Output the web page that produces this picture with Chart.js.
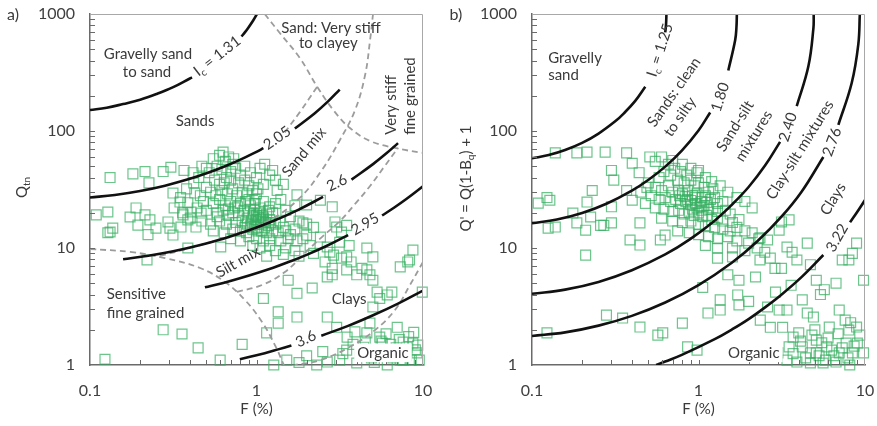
<!DOCTYPE html>
<html>
<head>
<meta charset="utf-8">
<script src="https://cdn.jsdelivr.net/npm/chart.js@4.4.0/dist/chart.umd.min.js"></script>
<style>
  body { margin: 0; background: #fff; }
  #wrap { position: relative; width: 877px; height: 426px; }
  canvas { position: absolute; top: 0; }
</style>
</head>
<body>
<div id="wrap">
  <canvas id="chartA" width="438" height="426" style="left:0"></canvas>
  <canvas id="chartB" width="439" height="426" style="left:438px"></canvas>
</div>
<script>
// axis ticks
const fTicks = [0.1, 1, 10];
const qTicks = [1, 10, 100, 1000];
const fMarks = [0.2, 0.3, 0.4, 0.5, 0.6, 0.7, 0.8, 0.9, 1, 2, 3, 4, 5, 6, 7, 8, 9];
const qMarks = [2, 3, 4, 5, 6, 7, 8, 9, 10, 20, 30, 40, 50, 60, 70, 80, 90, 100, 200, 300, 400, 500, 600, 700, 800, 900];

// panel a) : Ic contours (F %, Qtn), split where the labels sit
const ic131a = [[0.1,151],[0.126,158],[0.158,170],[0.2,185],[0.251,207],[0.316,237],[0.398,281],[0.41,287]];
const ic131b = [[0.813,642],[0.851,696],[0.891,760],[0.955,880],[1.0,984],[1.006,1000]];
const ic205a = [[0.1,27.0],[0.141,28.4],[0.2,30.7],[0.282,34.1],[0.398,39.0],[0.501,43.5],[0.631,49.2],[0.794,56.6],[1.0,66.4],[1.1,71.3]];
const ic205b = [[1.7,105],[2.24,142],[2.69,179],[3.16,226]];
const ic26a = [[0.158,8.01],[0.224,8.58],[0.316,9.37],[0.447,10.5],[0.631,12.0],[0.891,14.1],[1.26,17.0],[1.78,21.2],[2.51,27.3]];
const ic26b = [[3.72,38.4],[5.01,52.1],[6.03,64.4],[7.08,78.8]];
const ic295a = [[0.49,4.61],[0.631,5.03],[0.794,5.51],[1.26,6.79],[1.585,7.66],[2.0,8.74],[2.63,10.4],[3.55,12.9]];
const ic295b = [[5.68,18.95],[6.76,22.3],[7.94,26.2],[10,33.7]];
const ic36a = [[0.794,1.12],[1.12,1.26],[1.35,1.36],[1.62,1.47]];
const ic36b = [[2.45,1.78],[3.55,2.16],[5.01,2.66],[7.08,3.35],[10,4.33]];

// panel a) : dashed zone boundaries
const zone1 = [[0.1,9.8],[0.174,9.25],[0.282,8.2],[0.458,6.75],[0.647,5.12],[0.853,3.59],[1.08,2.33],[1.29,1.48],[1.46,1]];
const zoneSand = [[0.263,8.55],[0.399,10],[0.693,12.7],[1.205,17.4],[1.82,26.8],[2.47,46.4],[3.17,83.8],[3.91,151],[4.49,301],[4.81,600],[5.01,1000]];
const zoneStiff = [[1.12,1000],[1.38,688],[1.82,421],[2.34,233],[2.96,145],[3.64,106],[4.81,82.2],[6.79,71.6],[10,64.9]];
const zoneMix = [[2.31,238],[1.82,145],[1.44,92.5]];
const zoneSilt = [[0.763,4.21],[1.08,4.83],[1.48,6.23],[1.95,9.06],[2.47,12.4],[3.17,17.0],[3.91,23.8],[4.81,33.9],[5.83,49.2],[7.08,71.6]];
const zoneOrganic = [[10,7.6],[8.35,4.83],[6.79,2.95],[5.15,1.99],[3.64,1.43],[2.41,1.1],[1.7,1]];

// panel b) : Ic contours (F %, Q')
const ic125a = [[0.1,58.4],[0.126,62.3],[0.158,68.8],[0.2,79.1],[0.251,95.1],[0.316,121],[0.355,141],[0.417,181],[0.479,239]];
const ic125b = [[0.631,695],[0.638,806],[0.642,1000]];
const ic180a = [[0.1,16.3],[0.141,17.5],[0.2,19.9],[0.282,24.0],[0.398,30.9],[0.501,38.3],[0.631,49.6],[0.794,68],[1.0,101],[1.175,144]];
const ic180b = [[1.51,329],[1.66,597],[1.69,770],[1.70,1000]];
const ic240a = [[0.1,4.06],[0.158,4.41],[0.251,5.13],[0.398,6.45],[0.631,8.81],[0.891,11.9],[1.26,17.3],[1.585,23.4],[2.0,33.2],[2.51,50.6],[3.09,80.8]];
const ic240b = [[3.89,163],[4.57,357],[4.9,758],[4.92,1000]];
const ic276a = [[0.1,1.77],[0.158,1.90],[0.251,2.17],[0.398,2.63],[0.631,3.42],[1.0,4.82],[1.585,7.48],[2.24,11.3],[3.16,18.6],[4.17,30.4],[5.62,60]];
const ic276b = [[6.92,113],[8.32,257],[9.12,553],[9.31,1000]];
const ic322a = [[0.557,1],[0.631,1.07],[0.794,1.22],[1.26,1.67],[1.585,2.01],[2.0,2.47],[2.51,3.11],[3.16,4.01],[4.17,5.66],[5.62,8.71]];
const ic322b = [[8.13,16.6],[8.91,20.0],[10,25.7]];

// CPT data (F %, Qtn)
const pointsA = [
  [0.132,40],[0.181,43],[0.214,45],[0.226,36],[0.275,45],[0.306,49],[0.367,46],[0.416,44],[0.47,50],
  [0.315,29.5],[0.347,24.7],[0.387,24.4],[0.426,29.5],
  [0.109,19.2],[0.128,20.3],[0.137,14.8],[0.128,13.5],[0.174,18.4],[0.189,22],[0.214,19.2],[0.229,17.4],[0.194,15.7],
  [0.223,13],[0.249,14.8],[0.294,16.7],[0.302,14.8],[0.315,12.9],[0.352,15.1],[0.362,19.2],[0.404,20.3],[0.433,15.1],
  [0.465,19.9],[0.387,17.4],[0.132,13.7],[0.22,7.9],[0.387,10],[0.61,10.2],
  [0.275,2.0],[0.357,1.84],[0.446,1.4],[0.123,1.12],[0.82,1.5],[0.605,1.1],
  [1.33,31],[1.75,28.5],[2.0,23.3],[2.42,25.6],[2.85,22.5],[3.03,15.1],[3.48,15.6],[3.16,11.2],[3.48,8.4],[2.76,9.2],
  [2.85,6.7],[2.66,5.65],[3.7,7.6],[4.6,10],[5.0,8.4],[4.6,6.5],[5.0,5.3],[4.0,5.9],[1.55,5.3],[1.75,4.1],[2.16,4.55],
  [1.1,3.7],[1.35,2.85],[1.35,2.28],[1.75,2.57],[1.15,1.88],
  [2.66,2.57],[3.03,2.1],[3.5,1.73],[3.9,1.92],[4.8,2.28],[4.6,1.88],[5.5,1.73],[7.0,2.1],[7.6,1.57],[8.7,1.54],[9.2,1.27],
  [3.48,1.34],[3.16,1.1],[2.66,1.06],[2.3,1.0],[1.52,1.1],[1.27,1.0],[4.0,1.04],[6.1,1.0],[7.3,1.1],[7.3,1.29],[4.4,1.42],
  [6.3,1.27],[5.7,1.54],[7.6,1.1],[8.0,1.42],[9.3,1.48],[9.9,4.2],[8.7,9.6],[8.3,7.9],[7.3,6.9],[5.5,3.7],[6.1,3.97],[5.0,3.13],
  [1.9,16.4],[2.0,12.9],[2.96,16.7],[3.24,13.7],[3.6,10.5],[2.42,12.4],[2.66,10.2],[2.9,8.7],[2.58,7.6],[3.24,8.2],[3.48,6.5],
  [2.85,5.9],[4.3,6.7],[4.8,5.9],[8.1,7.6],[5.3,4.2],[6.5,4.2],
  [4.2,1.2],[4.9,1.15],[5.3,1.35],[5.8,1.2],[6.6,1.15],[6.9,1.4],[7.9,1.2],[8.5,1.1],[9.0,1.35],[5.1,1.05],[5.6,1.6],
  [6.4,1.5],[7.2,1.65],[8.2,1.75],[4.5,1.6],[3.8,1.5],[6.0,1.85],[8.8,1.9],[9.5,1.1],[3.3,1.25],[2.0,1.2],[2.5,1.3],[1.8,1.05],
  [1.05,48],[1.12,52],[1.25,46],[1.3,38],[1.45,35],[1.2,42],
  [0.55,58],[0.6,62],[0.65,55],[0.68,60],[0.72,52],[0.58,50],[0.62,47],[0.7,45],[0.75,48],[0.8,42],[0.52,44],[0.66,40],
  [0.56,38],[0.6,35],[0.64,36],[0.7,38],[0.78,36],[0.85,38],[0.9,34],[0.5,33],[0.53,30],[0.57,28],[0.62,31],[0.67,29],
  [0.72,32],[0.76,28],[0.82,30],[0.88,29],[0.95,31],[1.0,29],[0.46,28],[0.48,25],[0.55,24],[0.6,26],[0.65,23],[0.7,25],
  [0.74,22],[0.8,24],[0.86,25],[0.92,23],[0.98,24],[1.05,22],[1.1,25],[0.44,22],[0.5,21],[0.58,20],[0.63,21],[0.68,19],
  [0.72,20],[0.78,19],[0.84,21],[0.9,20],[0.95,18.5],[1.0,19],[1.05,20],[1.1,18],[1.15,19.5],[1.2,17.5],[1.25,20],[0.4,18],
  [0.47,17],[0.53,16],[0.6,17],[0.66,16],[0.75,16.5],[0.82,17],[0.88,16],[0.93,17],[0.98,16],[1.03,17],[1.08,16],[1.13,16.5],
  [1.18,15.5],[1.3,16],[1.38,17],[1.45,15],[0.55,14],[0.64,13.5],[0.72,14.5],[0.8,14],[0.87,13.5],[0.95,14.5],[1.0,15],
  [1.07,14],[1.15,13.5],[1.25,14],[1.35,13.5],[1.5,14],[1.6,13],[1.7,14.5],[0.7,12],[0.8,11.5],[0.9,12.5],[1.0,12],[1.1,11.5],
  [1.2,12],[1.4,11.5],[1.55,12],[1.75,11.5],[1.9,12],[0.95,10.5],[1.05,10],[1.2,10.5],[1.3,9.5],[1.5,10],[1.7,9.5],[2.1,10.5],
  [1.15,8.5],[1.45,8.8],[1.8,8.5],[2.2,9.0],[0.98,26],[1.2,22.5],[1.3,24],[1.5,21],[1.6,18.5],[1.8,17],[2.0,16],[2.2,15],
  [1.4,26],[1.7,23],[0.42,36],[0.45,40],[0.38,32],[0.35,27],[0.32,22],[0.36,20],[0.5,48],[0.63,66],[0.73,58],[0.85,50],
  [0.92,44],[1.0,40],[1.1,35],[0.9,26],[1.02,32],[0.58,18.5],[0.68,21.5],[0.77,22.5],[0.88,18],[0.97,21],[1.08,19],[1.18,21],
  [0.85,15],[0.92,15.5],[1.02,14],[1.12,15],[1.22,16.5],[0.99,17.5],[1.03,18.5],[1.06,17.5],[0.96,19.5],[1.1,16.8]
];

// CPT data (F %, Q')
const pointsB = [
  [0.138,65],[0.186,65],[0.214,66],[0.275,66],[0.37,65],[0.51,60],[0.4,53],[0.3,46],[0.31,38],[0.44,44],[0.23,31],[0.49,33],
  [0.123,27],[0.109,24.2],[0.128,25.6],[0.125,14.8],[0.138,15.1],[0.176,19.9],[0.186,16.4],[0.214,24.7],[0.21,14.2],[0.21,8.7],
  [0.225,18.4],[0.258,15.6],[0.27,15.6],[0.3,22.5],[0.3,16.4],[0.388,11.7],[0.445,10.6],[0.4,25.6],[0.445,16.4],[0.37,31],
  [0.28,2.67],[0.35,2.52],[0.445,2.11],[0.123,1.88],[0.57,1.8],
  [0.59,11.7],[0.63,12.9],[0.61,1.88],[0.8,2.28],[0.86,1.43],[0.98,1.34],[1.14,2.78],[1.35,3.6],[1.35,2.95],[1.72,3.97],
  [1.75,3.26],[1.5,5.9],[1.75,5.3],[2.2,5.65],[1.06,4.6],[1.3,8.2],[1.6,8.4],[2.34,7.9],[2.25,10],[2.5,9.2],[2.7,8.2],
  [2.88,6.7],[3.15,6.7],[3.4,10.2],[3.65,9.2],[3.9,7.9],[4.5,11],[4.7,7.2],[5.1,5.3],[5.7,4.4],[5.4,4.0],[6.7,5.0],[8.4,9.0],
  [8.0,7.9],[7.3,7.9],[8.9,11],[9.8,5.3],[3.15,16.7],[3.5,17.4],[3.05,14.2],[2.34,12.2],[2.6,11.7],
  [2.7,2.1],[3.05,2.95],[3.4,2.95],[3.2,2.1],[3.7,1.73],[4.5,2.78],[4.9,2.57],[4.0,1.88],[4.2,1.43],[5.1,1.63],[5.1,1.27],
  [5.9,1.43],[6.1,2.11],[7.0,2.95],[7.6,2.42],[8.0,1.99],[8.9,2.11],[9.0,1.54],[7.7,1.54],[7.0,1.27],[6.7,1.06],[5.6,1.04],
  [4.7,1.04],[3.9,1.06],[3.4,1.1],[3.0,1.27],[3.5,1.43],[4.7,1.27],[6.3,1.34],[8.4,1.27],[9.8,1.27],[8.1,1.0],[2.6,3.13],
  [2.35,2.42],[4.4,1.15],[5.3,1.2],[5.5,1.55],[6.0,1.7],[6.5,1.2],[7.3,1.4],[8.6,1.45],[9.3,1.8],[4.8,1.8],[5.8,1.1],
  [7.9,1.15],[6.9,1.85],[3.7,1.25],[4.1,1.6],[5.0,2.0],[8.2,2.3],[2.0,3.5],[2.9,4.2],[3.6,4.8],[4.2,3.6],
  [0.55,55],[0.6,60],[0.66,52],[0.72,48],[0.78,45],[0.85,42],[0.62,45],[0.58,40],[0.68,42],[0.75,38],[0.82,36],[0.9,38],
  [0.95,34],[1.0,36],[1.08,33],[1.15,30],[1.22,32],[0.5,36],[0.55,33],[0.6,31],[0.66,34],[0.7,30],[0.76,31],[0.8,29],
  [0.86,31],[0.92,28],[0.98,29],[1.05,27],[1.1,28],[1.18,26],[1.25,27],[1.3,24],[1.4,25],[0.45,30],[0.52,28],[0.58,26],
  [0.63,27],[0.68,25],[0.73,26],[0.78,24],[0.84,25],[0.9,23.5],[0.96,24],[1.02,22.5],[1.08,23],[1.15,21.5],[1.22,22],
  [1.3,20.5],[1.45,21],[1.55,19.5],[0.48,24],[0.55,22],[0.62,21.5],[0.7,20.5],[0.76,21],[0.82,19.5],[0.88,20],[0.94,19],
  [1.0,20],[1.06,18.5],[1.12,19],[1.2,17.5],[1.3,18],[1.4,17],[1.6,16.5],[1.75,17.5],[0.6,18],[0.7,17],[0.8,16.5],[0.9,17],
  [1.0,16],[1.1,15.5],[1.25,15],[1.4,14.5],[1.55,14],[1.7,15],[1.9,14],[2.1,13.5],[0.75,14],[0.88,13.5],[1.0,13],[1.15,12.5],
  [1.3,12],[1.5,12.5],[1.7,11.5],[2.0,11],[2.3,12],[1.1,10.5],[1.3,10],[1.6,10],[1.9,9.5],[0.98,44],[1.1,40],[1.2,37],
  [1.35,34],[1.5,30],[1.7,27],[1.9,25],[2.1,22],[0.7,56],[0.8,52],[0.9,48],[1.0,46],[0.86,26],[0.95,27],[1.04,25],[0.92,21.5],
  [0.98,22],[1.04,21],[0.9,25.5],[0.83,27.5],[0.77,28],[1.12,24.5]
];

const FONT = 'Lato, "Open Sans", sans-serif';
const TEXT = '#3a3a3a';

// label text in data coordinates of each panel
const labelsA = [
  { parts: [{ t: 'Gravelly sand' }], f: 0.223, q: 455 },
  { parts: [{ t: 'to sand' }], f: 0.22, q: 319 },
  { parts: [{ t: 'I' }, { t: 'c', sub: true }, { t: ' = 1.31' }], f: 0.58, q: 437, rot: -38 },
  { parts: [{ t: 'Sand: Very stiff' }], f: 2.8, q: 759 },
  { parts: [{ t: 'to clayey' }], f: 2.7, q: 565 },
  { parts: [{ t: 'Sands' }], f: 0.428, q: 122 },
  { parts: [{ t: '2.05' }], f: 1.33, q: 87, rot: -35 },
  { parts: [{ t: 'Sand mix' }], f: 1.93, q: 66, rot: -50 },
  { parts: [{ t: 'Very stiff' }], f: 6.4, q: 167, rot: -90 },
  { parts: [{ t: 'fine grained' }], f: 8.35, q: 199, rot: -90 },
  { parts: [{ t: '2.6' }], f: 3.04, q: 36, rot: -25 },
  { parts: [{ t: '2.95' }], f: 4.49, q: 16, rot: -30 },
  { parts: [{ t: 'Silt mix' }], f: 0.774, q: 7.6, rot: -30 },
  { parts: [{ t: 'Sensitive' }], f: 0.126, q: 4.04, align: 'left' },
  { parts: [{ t: 'fine grained' }], f: 0.126, q: 2.78, align: 'left' },
  { parts: [{ t: 'Clays' }], f: 3.6, q: 3.66 },
  { parts: [{ t: '3.6' }], f: 1.98, q: 1.67, rot: -25 },
  { parts: [{ t: 'Organic' }], f: 5.75, q: 1.27, bg: true }
];
const labelsB = [
  { parts: [{ t: 'Gravelly' }], f: 0.125, q: 421, align: 'left' },
  { parts: [{ t: 'sand' }], f: 0.125, q: 301, align: 'left' },
  { parts: [{ t: 'I' }, { t: 'c', sub: true }, { t: ' = 1.25' }], f: 0.587, q: 492, rot: -72 },
  { parts: [{ t: 'Sands: clean' }], f: 0.713, q: 215, rot: -55 },
  { parts: [{ t: 'to silty' }], f: 0.774, q: 132, rot: -55 },
  { parts: [{ t: '1.80' }], f: 1.35, q: 195, rot: -72 },
  { parts: [{ t: 'Sand-silt' }], f: 1.66, q: 110, rot: -58 },
  { parts: [{ t: 'mixtures' }], f: 2.15, q: 90.6, rot: -58 },
  { parts: [{ t: '2.40' }], f: 3.45, q: 108, rot: -72 },
  { parts: [{ t: 'Clay-silt mixtures' }], f: 4.07, q: 68.8, rot: -58 },
  { parts: [{ t: '2.76' }], f: 6.34, q: 80.5, rot: -70 },
  { parts: [{ t: 'Clays' }], f: 6.43, q: 26.2, rot: -58 },
  { parts: [{ t: '3.22' }], f: 6.8, q: 12.2, rot: -60 },
  { parts: [{ t: 'Organic' }], f: 2.15, q: 1.27, bg: true }
];

function rich(ctx, parts, x, y, rot, align, size, bg) {
  const sub = Math.round(size * 0.68);
  ctx.save();
  ctx.translate(x, y);
  ctx.rotate(rot * Math.PI / 180);
  const widths = parts.map(p => {
    ctx.font = (p.sub ? sub : size) + 'px ' + FONT;
    return ctx.measureText(p.t).width;
  });
  const total = widths.reduce((s, w) => s + w, 0);
  let cx = align === 'left' ? 0 : -total / 2;
  if (bg) {
    ctx.fillStyle = '#fff';
    ctx.fillRect(cx - 3, -size * 0.62, total + 6, size * 1.24);
  }
  ctx.fillStyle = TEXT;
  ctx.textAlign = 'left';
  ctx.textBaseline = 'middle';
  parts.forEach((p, i) => {
    ctx.font = (p.sub ? sub : size) + 'px ' + FONT;
    ctx.fillText(p.t, cx, p.sub ? size * 0.32 : 0);
    cx += widths[i];
  });
  ctx.restore();
}

const decor = {
  id: 'decor',
  afterDatasetsDraw(chart, args, opts) {
    const { ctx, chartArea: a, scales: { x, y } } = chart;
    ctx.save();
    ctx.strokeStyle = '#a8a8a8';
    ctx.lineWidth = 1;
    ctx.beginPath();
    ctx.moveTo(a.left, a.top + 0.5);
    ctx.lineTo(a.right - 0.5, a.top + 0.5);
    ctx.lineTo(a.right - 0.5, a.bottom);
    ctx.stroke();
    ctx.strokeStyle = '#6a6a6a';
    fMarks.forEach(v => {
      const px = Math.round(x.getPixelForValue(v)) + 0.5;
      ctx.beginPath(); ctx.moveTo(px, a.bottom); ctx.lineTo(px, a.bottom - 5); ctx.stroke();
    });
    qMarks.forEach(v => {
      const py = Math.round(y.getPixelForValue(v)) + 0.5;
      ctx.beginPath(); ctx.moveTo(a.left, py); ctx.lineTo(a.left + 5, py); ctx.stroke();
    });
    ctx.restore();
    opts.labels.forEach(l => rich(ctx, l.parts, x.getPixelForValue(l.f), y.getPixelForValue(l.q),
      l.rot || 0, l.align || 'center', 15, l.bg));
    rich(ctx, opts.yTitle, a.left - opts.yTitleGap, (a.top + a.bottom) / 2 + opts.yTitleShift, -90, 'center', 15);
    rich(ctx, [{ t: opts.letter }], opts.letterX, 15, 0, 'center', 16);
  }
};

function line(pts, dashed) {
  return {
    data: pts.map(p => ({ x: p[0], y: p[1] })),
    showLine: true,
    pointRadius: 0,
    borderColor: dashed ? '#9c9c9c' : '#111',
    borderWidth: dashed ? 1.8 : 2.6,
    borderDash: dashed ? [6, 4] : [],
    tension: 0.4,
    order: dashed ? 1.5 : 1
  };
}

function cloud(pts) {
  return {
    data: pts.map(p => ({ x: p[0], y: p[1] })),
    pointStyle: 'rect',
    pointRadius: 7,
    borderWidth: 1.2,
    borderColor: 'rgba(52,175,95,0.72)',
    backgroundColor: 'rgba(0,0,0,0)',
    showLine: false,
    clip: false,
    order: 2
  };
}

function makeChart(id, datasets, yWidth, padRight, deco) {
  return new Chart(document.getElementById(id), {
    type: 'scatter',
    data: { datasets },
    plugins: [decor],
    options: {
      responsive: false,
      animation: false,
      layout: { padding: { top: 14, right: padRight, left: 0, bottom: 0 } },
      plugins: { legend: { display: false }, tooltip: { enabled: false }, decor: deco },
      scales: {
        x: {
          type: 'logarithmic', min: 0.1, max: 10,
          afterBuildTicks: s => { s.ticks = fTicks.map(v => ({ value: v })); },
          afterFit: s => { s.height = 61; s.paddingLeft = 0; s.paddingRight = 0; },
          ticks: { callback: v => String(v), autoSkip: false, maxRotation: 0, padding: 16,
                   color: '#404040', font: { family: FONT, size: 16 } },
          grid: { drawOnChartArea: false, drawTicks: false },
          border: { color: '#6a6a6a', width: 1.5 },
          title: { display: true, text: 'F (%)', color: TEXT, font: { family: FONT, size: 15 },
                   padding: { top: 0, bottom: 8 } }
        },
        y: {
          type: 'logarithmic', min: 1, max: 1000,
          afterBuildTicks: s => { s.ticks = qTicks.map(v => ({ value: v })); },
          afterFit: s => { s.width = yWidth; s.paddingTop = 0; s.paddingBottom = 0; },
          ticks: { callback: v => String(v), autoSkip: false, padding: 15,
                   color: '#404040', font: { family: FONT, size: 16 } },
          grid: { drawOnChartArea: false, drawTicks: false },
          border: { color: '#6a6a6a', width: 1.5 }
        }
      }
    }
  });
}

makeChart('chartA', [
  cloud(pointsA),
  line(ic131a), line(ic131b), line(ic205a), line(ic205b), line(ic26a), line(ic26b),
  line(ic295a), line(ic295b), line(ic36a), line(ic36b),
  line(zone1, true), line(zoneSand, true), line(zoneStiff, true), line(zoneMix, true),
  line(zoneSilt, true), line(zoneOrganic, true)
], 90, 15, {
  labels: labelsA,
  yTitle: [{ t: 'Q' }, { t: 'tn', sub: true }],
  yTitleGap: 68, yTitleShift: -2, letter: 'a)', letterX: 13
});

makeChart('chartB', [
  cloud(pointsB),
  line(ic125a), line(ic125b), line(ic180a), line(ic180b), line(ic240a), line(ic240b),
  line(ic276a), line(ic276b), line(ic322a), line(ic322b)
], 94, 12, {
  labels: labelsB,
  yTitle: [{ t: "Q' = Q(1-B" }, { t: 'q', sub: true }, { t: ') + 1' }],
  yTitleGap: 66, yTitleShift: -11, letter: 'b)', letterX: 18
});
</script>
</body>
</html>
